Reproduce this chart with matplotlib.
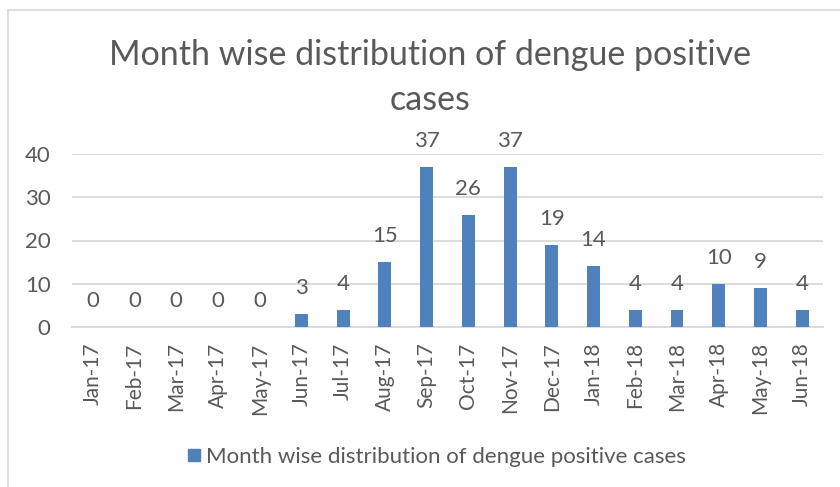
import matplotlib
matplotlib.use("Agg")
import matplotlib.pyplot as plt
from matplotlib.lines import Line2D

plt.rcParams['font.family'] = ['Lato', 'DejaVu Sans']

months = ["Jan-17", "Feb-17", "Mar-17", "Apr-17", "May-17", "Jun-17", "Jul-17",
          "Aug-17", "Sep-17", "Oct-17", "Nov-17", "Dec-17", "Jan-18", "Feb-18",
          "Mar-18", "Apr-18", "May-18", "Jun-18"]
cases = [0, 0, 0, 0, 0, 3, 4, 15, 37, 26, 37, 19, 14, 4, 4, 10, 9, 4]
series_name = "Month wise distribution of dengue positive cases"

txt = "#595959"
bar_color = "#4F81BD"
grid_color = "#D9D9D9"

fig = plt.figure(figsize=(8.4, 4.87), dpi=100)
W, H = 840, 487
ax = fig.add_axes([72 / W, 1 - 327 / H, (823 - 72) / W, (327 - 154) / H])

x = range(len(months))
ax.bar(x, cases, width=0.31, color=bar_color, zorder=3, label=series_name)
for xi, v in zip(x, cases):
    ax.text(xi, v + 6, str(v), ha="center", va="center", fontsize=16,
            color=txt, clip_on=False)

ax.set_xlim(-0.5, len(months) - 0.5)
ax.set_ylim(0, 40)
ax.set_yticks([0, 10, 20, 30, 40])
ax.yaxis.grid(True, color=grid_color, linewidth=1.3, zorder=0)
ax.set_xticks(list(x))
ax.set_xticklabels(months, rotation=90)
ax.tick_params(axis="y", length=0, labelsize=16, colors=txt, pad=15.5)
ax.tick_params(axis="x", length=0, labelsize=15, colors=txt, pad=11)
for s in ["top", "right", "left"]:
    ax.spines[s].set_visible(False)
ax.spines["bottom"].set_color(grid_color)
ax.spines["bottom"].set_linewidth(1.3)

fig.text(430 / W, 1 - 55 / H, "Month wise distribution of dengue positive",
         ha="center", va="center", fontsize=24.5, color=txt)
fig.text(430 / W, 1 - 100 / H, "cases",
         ha="center", va="center", fontsize=24.5, color=txt)

handle = Line2D([], [], marker="s", linestyle="none", markersize=9,
                color=bar_color)
fig.legend([handle], [series_name], loc="center",
           bbox_to_anchor=(434 / W, 1 - 457 / H), frameon=False,
           fontsize=16, labelcolor=txt, handletextpad=0.05,
           handlelength=1.0)

# outer chart frame (cropped)
fig.add_artist(Line2D([8 / W, 8 / W], [0, 1 - 10 / H], transform=fig.transFigure,
                      color=grid_color, linewidth=1.2))
fig.add_artist(Line2D([8 / W, 1], [1 - 10 / H, 1 - 10 / H], transform=fig.transFigure,
                      color=grid_color, linewidth=1.2))

fig.savefig("out.png", dpi=100)
